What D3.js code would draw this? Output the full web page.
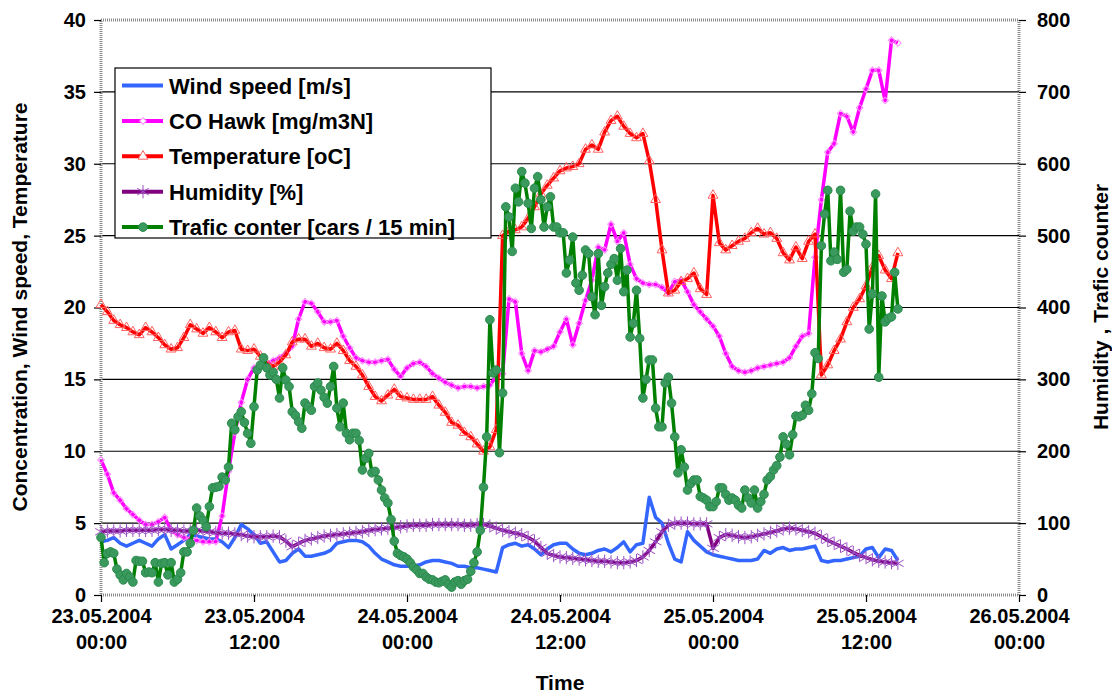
<!DOCTYPE html>
<html>
<head>
<meta charset="utf-8">
<script src="https://cdn.jsdelivr.net/npm/d3@7"></script>
<style>
  body { margin: 0; background: #fff; }
  svg text { font-family: "Liberation Sans", Arial, sans-serif; font-weight: bold; fill: #000; }
</style>
</head>
<body>
<svg id="chart" width="1112" height="693"></svg>
<script>
// values every 30 min from 23.05.2004 00:00
var windSpeed = [
  3.7,3.8,4.0,3.6,3.4,3.6,3.8,3.6,3.4,3.9,
  4.2,3.2,3.5,3.8,4.2,4.1,4.0,3.9,3.9,3.7,
  3.3,4.0,4.9,4.6,4.2,3.6,3.7,3.0,2.3,2.4,
  2.9,3.2,2.7,2.7,2.8,2.9,3.1,3.6,3.7,3.8,
  3.8,3.7,3.4,2.9,2.5,2.3,2.1,2.0,2.0,2.0,
  2.1,2.3,2.4,2.4,2.3,2.2,2.0,2.0,1.9,1.9,
  1.8,1.7,1.6,3.3,3.5,3.6,3.4,3.5,3.2,2.8,
  3.2,3.5,3.6,3.6,3.2,2.9,2.8,2.9,3.1,3.2,
  3.0,3.3,3.7,3.0,3.5,3.6,6.8,5.4,5.0,3.6,
  2.5,2.3,4.4,3.8,3.4,3.0,2.8,2.7,2.6,2.5,
  2.4,2.4,2.4,2.5,3.1,2.9,3.2,3.3,3.1,3.2,
  3.2,3.3,3.4,2.4,2.3,2.4,2.4,2.5,2.6,2.7,
  3.2,3.3,2.6,3.2,3.1,2.4
];
var coHawk = [
  9.4,8.4,7.1,6.6,6.0,5.6,5.2,4.9,4.9,5.1,
  5.4,4.5,4.2,4.0,3.9,3.8,3.7,3.7,3.7,5.5,
  8.6,11.3,13.4,15.0,15.8,16.0,16.1,16.3,16.5,16.8,
  17.3,19.2,20.4,20.3,19.7,19.0,19.0,19.1,18.0,17.2,
  16.5,16.3,16.2,16.2,16.3,16.4,15.7,15.2,15.8,16.1,
  16.2,15.9,15.4,15.1,14.8,14.6,14.4,14.5,14.5,14.4,
  14.5,14.6,15.2,15.4,20.6,20.4,16.8,15.6,17.0,16.9,
  17.1,17.3,18.3,19.2,17.4,18.9,20.5,21.9,24.2,24.0,
  25.8,24.6,25.2,23.0,22.0,21.7,21.6,21.6,21.4,21.0,
  21.8,21.9,21.1,20.2,19.7,19.2,18.7,18.0,16.8,15.9,
  15.6,15.5,15.6,15.8,15.9,16.0,16.1,16.2,16.5,17.3,
  18.0,18.2,23.5,27.5,30.8,31.4,33.5,33.3,32.2,33.9,
  35.2,36.5,36.5,34.4,38.6,38.4
];
var temperature = [
  20.2,19.7,19.1,18.8,18.6,18.3,18.1,18.6,18.3,17.9,
  17.4,17.1,17.2,17.9,18.8,18.5,18.2,18.6,18.3,17.9,
  18.3,18.4,17.1,17.0,17.1,16.6,16.1,15.9,16.2,16.7,
  17.6,17.8,17.8,17.3,17.5,17.2,17.1,17.5,17.0,16.3,
  15.9,15.3,14.5,13.8,13.5,13.9,14.3,13.8,13.7,13.6,
  13.6,13.6,13.8,13.2,12.7,12.0,11.8,11.3,11.0,10.5,
  10.0,10.3,11.5,25.0,25.3,25.4,25.6,26.2,27.0,27.9,
  28.5,29.0,29.5,29.7,29.8,30.0,31.0,31.3,31.0,32.2,
  33.0,33.3,32.6,32.1,31.8,32.1,30.2,27.5,24.0,21.0,
  21.2,21.8,22.0,22.4,21.3,20.9,27.8,24.5,24.0,24.3,
  24.6,24.8,25.2,25.5,25.1,25.2,24.8,23.8,23.3,24.2,
  23.4,24.6,25.1,15.3,16.0,17.0,17.8,19.0,20.0,20.6,
  21.5,22.8,23.6,22.6,22.0,23.8
];
var humidity = [
  88,89,89,89,90,90,90,90,90,91,
  91,90,90,89,89,90,89,88,87,86,
  86,85,84,82,81,81,81,82,81,75,
  67,72,76,78,80,82,83,84,85,86,
  87,88,90,91,92,93,94,95,96,97,
  97,97,98,98,98,98,98,97,97,98,
  98,96,93,90,88,86,84,80,75,66,
  58,55,53,52,51,50,49,48,47,47,
  46,45,45,46,48,53,62,74,88,97,
  100,100,100,99,99,99,65,80,84,83,
  81,80,81,83,85,87,89,92,93,92,
  90,88,86,81,76,72,68,64,59,55,
  52,49,47,46,45,44
];
// cars per 15 min, every 15 min
var traffic = [
  80,45,58,60,58,36,28,21,30,25,
  18,48,47,47,31,32,31,45,18,44,
  45,28,45,18,22,31,60,60,72,90,
  121,110,104,95,123,149,150,151,164,160,
  178,239,230,248,255,240,225,211,262,313,
  320,330,316,306,310,300,274,316,299,290,
  255,250,241,232,267,262,257,290,295,285,
  275,267,290,318,260,234,267,225,216,225,
  225,215,174,190,197,170,172,160,146,135,
  128,105,75,58,55,53,50,45,39,35,
  30,30,25,22,21,18,17,19,21,15,
  11,18,20,15,20,22,33,45,60,90,
  150,220,383,309,313,198,281,540,526,478,
  566,547,589,573,545,510,566,582,550,512,
  540,554,512,512,504,504,448,466,498,434,
  424,445,480,475,415,390,475,403,429,448,
  460,468,438,482,422,452,359,378,424,357,
  274,300,327,327,260,234,234,295,303,267,
  220,170,202,178,146,155,160,160,137,135,
  132,123,123,130,149,149,140,132,135,132,
  125,121,146,135,128,146,121,130,140,160,
  165,174,180,192,220,210,195,223,249,248,
  250,264,257,280,337,329,486,530,563,465,
  477,467,563,449,453,534,506,512,512,502,
  488,370,419,558,303,416,380,385,387,449,
  398
];

var leftTicks = [0, 5, 10, 15, 20, 25, 30, 35, 40];
var rightTicks = [0, 100, 200, 300, 400, 500, 600, 700, 800];
var timeTicks = ["2004-05-23 00:00", "2004-05-23 12:00", "2004-05-24 00:00", "2004-05-24 12:00",
                 "2004-05-25 00:00", "2004-05-25 12:00", "2004-05-26 00:00"];
var seriesNames = ["Wind speed [m/s]", "CO Hawk [mg/m3N]", "Temperature [oC]", "Humidity [%]",
                   "Trafic conter [cars / 15 min]"];

var parseTime = d3.timeParse("%Y-%m-%d %H:%M");
var start = parseTime(timeTicks[0]);
var end = parseTime(timeTicks[timeTicks.length - 1]);

var plot = {left: 101, right: 1019, top: 20, bottom: 595};
var svg = d3.select("#chart");

var x = d3.scaleTime().domain([start, end]).range([plot.left, plot.right]);
var yLeft = d3.scaleLinear().domain([0, 40]).range([plot.bottom, plot.top]);
var yRight = d3.scaleLinear().domain([0, 800]).range([plot.bottom, plot.top]);

// gridlines
svg.append("g").selectAll("line")
    .data(leftTicks.slice(1, -1))
    .enter().append("line")
    .attr("x1", plot.left).attr("x2", plot.right)
    .attr("y1", function(d) { return yLeft(d); })
    .attr("y2", function(d) { return yLeft(d); })
    .attr("stroke", "#000").attr("stroke-width", 1.2);

// plot frame, grey and hatched like the excel axes
svg.append("rect")
    .attr("x", plot.left).attr("y", plot.top)
    .attr("width", plot.right - plot.left).attr("height", plot.bottom - plot.top)
    .attr("fill", "none").attr("stroke", "#8a8a8a").attr("stroke-width", 3)
    .attr("stroke-dasharray", "1,1");

// axes
var leftAxis = svg.append("g")
    .attr("transform", `translate(${plot.left},0)`)
    .call(d3.axisLeft(yLeft).tickValues(leftTicks).tickSize(7).tickSizeOuter(0).tickPadding(8));
var rightAxis = svg.append("g")
    .attr("transform", `translate(${plot.right},0)`)
    .call(d3.axisRight(yRight).tickValues(rightTicks).tickSize(7).tickSizeOuter(0).tickPadding(11));
var timeAxis = svg.append("g")
    .attr("transform", `translate(0,${plot.bottom})`)
    .call(d3.axisBottom(x).tickValues(timeTicks.map(parseTime)).tickSize(7).tickSizeOuter(0)
      .tickFormat(""));

[leftAxis, rightAxis, timeAxis].forEach(function(a) {
  a.select(".domain").remove();
  a.selectAll(".tick line").attr("stroke", "#000").attr("stroke-width", 1.2);
  a.selectAll(".tick text").style("font-size", "20px").attr("fill", "#000");
});

var fmtDate = d3.timeFormat("%d.%m.%Y");
var fmtHour = d3.timeFormat("%H:%M");
timeAxis.selectAll(".tick").each(function(d) {
  var t = d3.select(this).append("text")
      .attr("text-anchor", "middle")
      .style("font-size", "20px");
  t.append("tspan").attr("x", 0).attr("y", 28).text(fmtDate(d));
  t.append("tspan").attr("x", 0).attr("y", 54).text(fmtHour(d));
});

// axis titles
svg.append("text")
    .attr("transform", "translate(27,307) rotate(-90)")
    .attr("text-anchor", "middle")
    .style("font-size", "21px")
    .text("Concentration, Wind speed, Temperature");
svg.append("text")
    .attr("transform", "translate(1108,307) rotate(-90)")
    .attr("text-anchor", "middle")
    .style("font-size", "21px")
    .text("Humidity , Trafic counter");
svg.append("text")
    .attr("x", 560).attr("y", 690)
    .attr("text-anchor", "middle")
    .style("font-size", "21px")
    .text("Time");

// series
var halfHour = function(d, i) { return x(d3.timeMinute.offset(start, i * 30)); };
var quarter = function(d, i) { return x(d3.timeMinute.offset(start, i * 15)); };

var series = [
  {name: seriesNames[0], data: windSpeed, y: yLeft, px: halfHour, color: "#3366ff", marker: null},
  {name: seriesNames[1], data: coHawk, y: yLeft, px: halfHour, color: "#ff00ff",
    marker: {type: d3.symbolSquare, size: 22, rotate: 45, fill: "none", stroke: "#ff8cff"}},
  {name: seriesNames[2], data: temperature, y: yLeft, px: halfHour, color: "#ff0000",
    marker: {type: d3.symbolTriangle, size: 42, rotate: 0, fill: "none", stroke: "#ff6060"}},
  {name: seriesNames[3], data: humidity, y: yRight, px: halfHour, color: "#800080",
    marker: {type: d3.symbolAsterisk, size: 125, rotate: 0, fill: "none", stroke: "#9b4fc4"}},
  {name: seriesNames[4], data: traffic, y: yRight, px: quarter, color: "#008000",
    marker: {type: d3.symbolCircle, size: 58, rotate: 0, fill: "#3a9a5e", stroke: "#2b8a4e"}}
];

series.forEach(function(s) {
  var g = svg.append("g");
  var line = d3.line()
      .x(s.px)
      .y(function(d) { return s.y(d); });
  g.append("path")
      .datum(s.data)
      .attr("d", line)
      .attr("fill", "none")
      .attr("stroke", s.color)
      .attr("stroke-width", 3.5)
      .attr("stroke-linejoin", "round");
  if (s.marker) {
    var sym = d3.symbol().type(s.marker.type).size(s.marker.size);
    g.selectAll("path.mk")
        .data(s.data)
        .enter().append("path")
        .attr("class", "mk")
        .attr("d", sym)
        .attr("transform", function(d, i) {
          return `translate(${s.px(d, i)},${s.y(d)}) rotate(${s.marker.rotate})`;
        })
        .attr("fill", s.marker.fill)
        .attr("stroke", s.marker.stroke)
        .attr("stroke-width", 1);
  }
});

// legend
var legend = svg.append("g");
legend.append("rect")
    .attr("x", 115).attr("y", 68).attr("width", 376).attr("height", 170)
    .attr("fill", "#fff").attr("stroke", "#000").attr("stroke-width", 1.2);
var item = legend.selectAll("g.item")
    .data(series)
    .enter().append("g")
    .attr("class", "item")
    .attr("transform", function(d, i) { return `translate(0,${85.5 + i * 35.4})`; });
item.append("line")
    .attr("x1", 122).attr("x2", 163)
    .attr("stroke", function(d) { return d.color; })
    .attr("stroke-width", 4);
item.filter(function(d) { return d.marker; })
    .append("path")
    .attr("d", function(d) { return d3.symbol().type(d.marker.type).size(d.marker.size)(); })
    .attr("transform", function(d) { return `translate(143,0) rotate(${d.marker.rotate})`; })
    .attr("fill", function(d) { return d.marker.fill === "none" ? "#fff" : d.marker.fill; })
    .attr("stroke", function(d) { return d.marker.stroke; });
item.append("text")
    .attr("x", 169).attr("y", 8)
    .style("font-size", "22px")
    .text(function(d) { return d.name; });
</script>
</body>
</html>
